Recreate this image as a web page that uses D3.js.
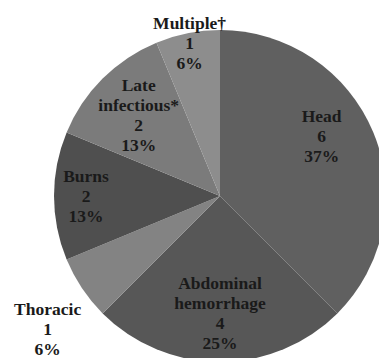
<!DOCTYPE html>
<html>
<head>
<meta charset="utf-8">
<script src="https://cdn.jsdelivr.net/npm/d3@7"></script>
<style>
  html, body { margin: 0; padding: 0; background: #fff; }
  svg { display: block; }
  .lbl { font-family: "Liberation Serif", "DejaVu Serif", "Times New Roman", serif; font-weight: bold; font-size: 17.5px; fill: #1a1a1a; }
</style>
</head>
<body>
<svg id="chart" width="379" height="358"></svg>
<script>
// Causes of death: name lines, counts and shares
const categories = [["Head"], ["Abdominal", "hemorrhage"], ["Thoracic"], ["Burns"], ["Late", "infectious*"], ["Multiple\u2020"]];
const counts = [6, 4, 1, 2, 2, 1];
const percentLabels = ["37%", "25%", "6%", "13%", "13%", "6%"];

// Styling and label placement
const sliceColors = ["#606060", "#575757", "#838383", "#4f4f4f", "#7b7b7b", "#8d8d8d"];
const labelRadius = [118, 117, 218, 134, 115, 156];
const labelAngleShift = [-8, 0, -4, 0, 0, 0]; // degrees

const width = 379, height = 358;
const cx = 220, cy = 196, R = 166;
const lineH = 20;

const svg = d3.select("#chart");
const g = svg.append("g").attr("transform", `translate(${cx},${cy})`);

const pie = d3.pie().sort(null).value(d => d.count);
const data = categories.map((c, i) => ({ lines: c, count: counts[i], pct: percentLabels[i], i }));
const arcs = pie(data);

const arc = d3.arc().innerRadius(0).outerRadius(R);

g.selectAll("path.slice")
  .data(arcs)
  .join("path")
  .attr("class", "slice")
  .attr("d", arc)
  .attr("fill", d => sliceColors[d.data.i])
  .attr("stroke", "none");

// Data labels: name lines, count, percentage
arcs.forEach(a => {
  const i = a.data.i;
  const mid = (a.startAngle + a.endAngle) / 2 + labelAngleShift[i] * Math.PI / 180;
  const r = labelRadius[i];
  const lx = r * Math.sin(mid);
  const ly = -r * Math.cos(mid);
  const lines = [...a.data.lines, String(a.data.count), a.data.pct];
  const n = lines.length;
  const t = g.append("text")
    .attr("class", "lbl")
    .attr("text-anchor", "middle");
  lines.forEach((s, k) => {
    t.append("tspan")
      .attr("x", lx)
      .attr("y", ly - (n - 1) * lineH / 2 + k * lineH + 6)
      .text(s);
  });
});
</script>
</body>
</html>
